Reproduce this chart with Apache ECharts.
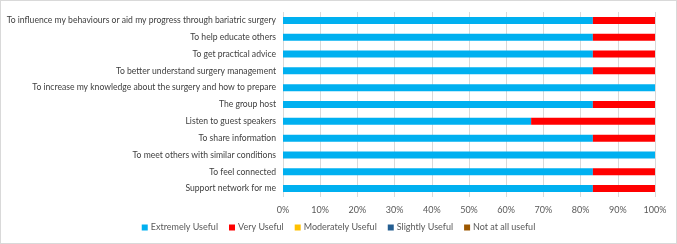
<!DOCTYPE html>
<html>
<head>
<meta charset="utf-8">
<script src="https://cdn.jsdelivr.net/npm/echarts@6/dist/echarts.min.js"></script>
<style>
  html, body { margin: 0; padding: 0; background: #fff; }
  #chart { position: absolute; left: 0; top: 0; width: 675px; height: 242px; border: 1px solid #d9d9d9; }
</style>
</head>
<body>
<div id="chart"></div>
<script>
// categories, bottom to top (as in the original axis)
const categories = [
  'Support network for me',
  'To feel connected',
  'To meet others with similar conditions',
  'To share information',
  'Listen to guest speakers',
  'The group host',
  'To increase my knowledge about the surgery and how to prepare',
  'To better understand surgery management',
  'To get practical advice',
  'To help educate others',
  'To influence my behaviours or aid my progress through bariatric surgery'
]
const extremelyUseful = [83.3, 83.3, 100, 83.3, 66.7, 83.3, 100, 83.3, 83.3, 83.3, 83.3]
const veryUseful = [16.7, 16.7, 0, 16.7, 33.3, 16.7, 0, 16.7, 16.7, 16.7, 16.7]
const moderatelyUseful = [0, 0, 0, 0, 0, 0, 0, 0, 0, 0, 0]
const slightlyUseful = [0, 0, 0, 0, 0, 0, 0, 0, 0, 0, 0]
const notAtAllUseful = [0, 0, 0, 0, 0, 0, 0, 0, 0, 0, 0]

const seriesNames = ['Extremely Useful', 'Very Useful', 'Moderately Useful', 'Slightly Useful', 'Not at all useful']
const seriesData = [extremelyUseful, veryUseful, moderatelyUseful, slightlyUseful, notAtAllUseful]
const colors = ['#00b0f0', '#ff0000', '#ffc000', '#255e91', '#9c5700']

const chart = echarts.init(document.getElementById('chart'))
const font = 'Lato'
let option = {
  backgroundColor: '#fff',
  animation: false,
  color: colors,
  textStyle: { fontFamily: font },
  grid: {
    left: 282,
    right: 21,
    top: 11,
    bottom: 46,
    containLabel: false,
    outerBoundsMode: 'none'
  },
  legend: {
    bottom: 6,
    left: 'center',
    itemWidth: 6,
    itemHeight: 6,
    itemGap: 11,
    icon: 'rect',
    textStyle: { fontSize: 9, color: '#595959', fontFamily: font, padding: [0, 0, 0, -2] },
    data: seriesNames
  },
  xAxis: {
    type: 'value',
    min: 0,
    max: 100,
    interval: 10,
    axisLine: { show: false },
    axisTick: { show: false },
    splitLine: { lineStyle: { color: '#d9d9d9', width: 1 } },
    axisLabel: {
      formatter: '{value}%',
      fontSize: 9,
      color: '#595959',
      margin: 9
    }
  },
  yAxis: {
    type: 'category',
    data: categories,
    axisLine: { show: false },
    axisTick: { show: false },
    axisLabel: { fontSize: 8.6, color: '#404040', margin: 7 }
  },
  series: seriesNames.map((name, i) => {
    return {
      name: name,
      type: 'bar',
      stack: 'total',
      barWidth: 7,
      data: seriesData[i]
    }
  })
}
chart.setOption(option)
</script>
</body>
</html>
